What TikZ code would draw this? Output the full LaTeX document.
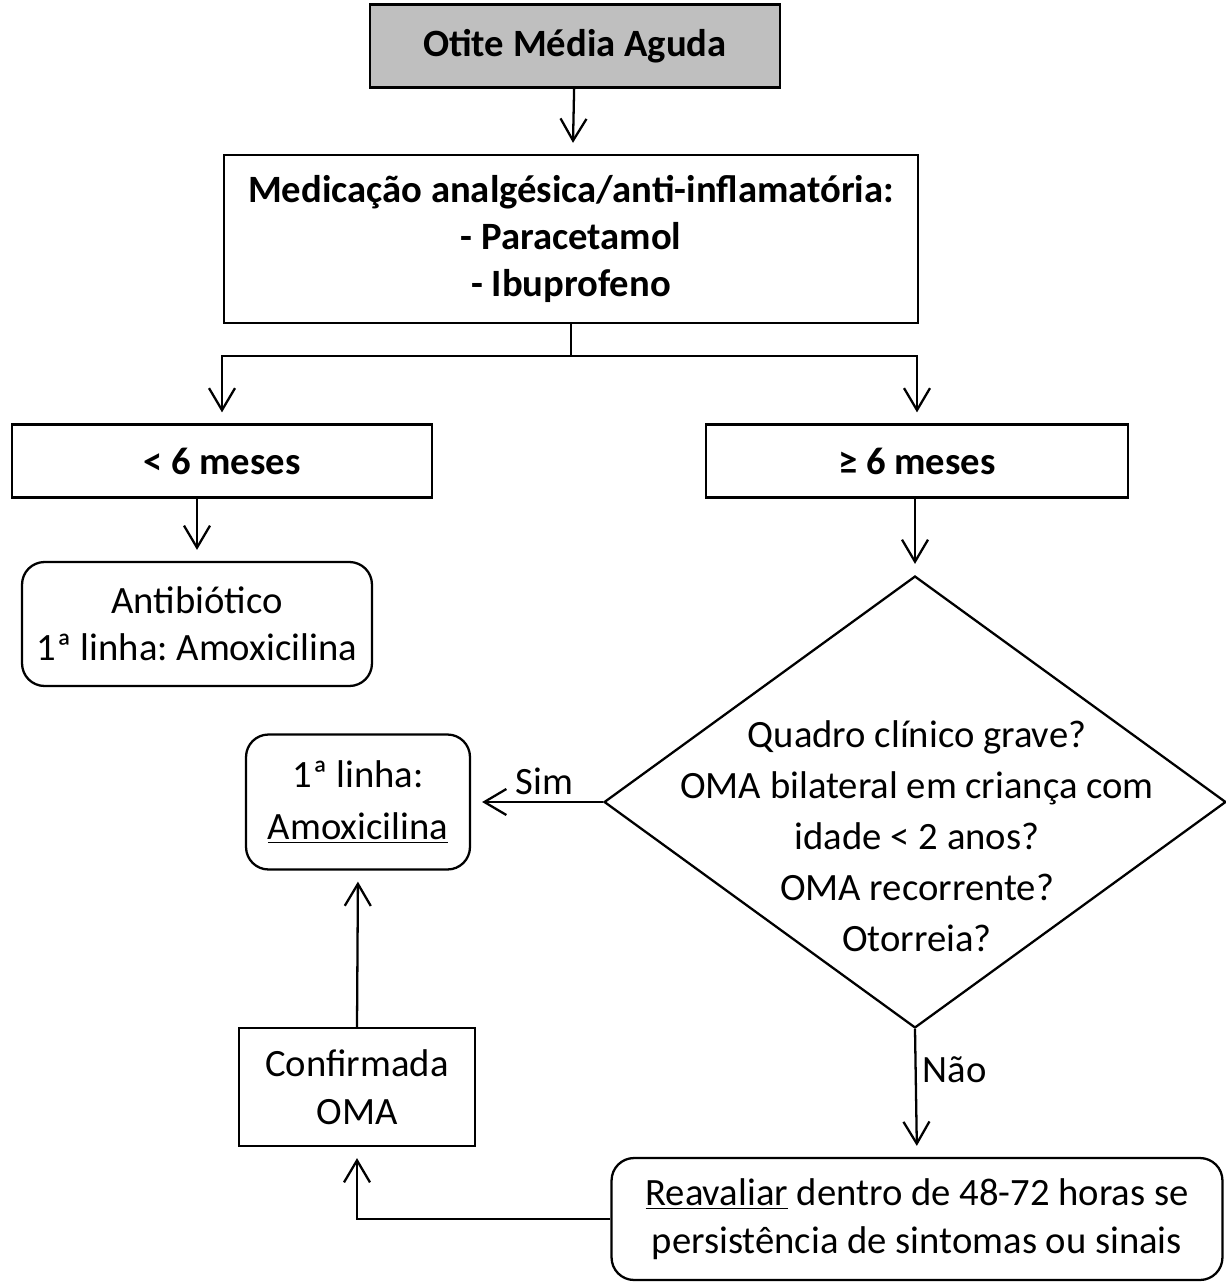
\documentclass[tikz,border=0pt]{standalone}
\usepackage{fontspec}
\setmainfont{Carlito}
\frenchspacing
\usetikzlibrary{shapes.geometric,arrows.meta}

\begin{document}
\begin{tikzpicture}[->,>={Straight Barb[length=4.4mm,width=5.2mm]},
  x=0.02cm,y=-0.02cm,line width=1.3pt,shorten >=0.22cm,
  main box/.style={rectangle,draw,align=center,inner sep=0pt,
    font=\fontsize{22}{27}\selectfont\bfseries},
  plain box/.style={rectangle,draw,align=center,inner sep=0pt,
    font=\fontsize{22}{27}\selectfont},
  round box/.style={plain box,rounded corners=0.45cm}]
\useasboundingbox (0,0) rectangle (1226,1284);
\node[main box,fill=gray!50,minimum width=8.2cm,minimum height=1.66cm] (title) at (575,46) {Otite Média Aguda};
\node[main box,minimum width=13.88cm,minimum height=3.36cm] (med) at (571,239)
  {Medicação analgésica/anti-inflamatória:\\ - Paracetamol\\ - Ibuprofeno};
\node[main box,minimum width=8.4cm,minimum height=1.46cm] (lt6) at (222,461) {< 6 meses};
\node[main box,minimum width=8.44cm,minimum height=1.46cm] (ge6) at (917,461) {≥ 6 meses};
\node[round box,minimum width=7cm,minimum height=2.48cm] (anti) at (197,624)
  {Antibiótico\\ 1ª linha: Amoxicilina};
\node[diamond,draw,minimum width=12.44cm,minimum height=9.04cm,inner sep=0pt] (dia) at (915,802) {};
\node[align=center,font=\fontsize{22}{29}\selectfont] (diatext) at (917,836)
  {Quadro clínico grave?\\ OMA bilateral em criança com\\ idade < 2 anos?\\ OMA recorrente?\\ Otorreia?};
\node[round box,font=\fontsize{22}{30}\selectfont,minimum width=4.48cm,minimum height=2.7cm] (amox) at (358,802)
  {1ª linha:\\ \underline{Amoxicilina}};
\node[plain box,minimum width=4.72cm,minimum height=2.36cm] (conf) at (357,1087) {Confirmada\\ OMA};
\node[round box,minimum width=12.22cm,minimum height=2.44cm] (reav) at (917,1219)
  {\underline{Reavaliar} dentro de 48-72 horas se\\ persistência de sintomas ou sinais};
\coordinate (fork) at (571,356);
% connectors
\draw (title) -- (med);
\draw [-,shorten >=0pt] (med) -- (fork);
\draw (fork) -| (lt6.north);
\draw (fork) -| (ge6.north);
\draw (lt6.south -| anti.north) -- (anti.north);
\draw (ge6.south -| dia.north) -- (dia.north);
\draw (dia.west) -- node[above,xshift=0.15cm,font=\fontsize{22}{27}\selectfont] (sim) {Sim} (amox.east);
\draw (dia.south) -- node[right,pos=0.32,font=\fontsize{22}{27}\selectfont] (nao) {Não} (reav.north);
\draw (conf.north) -- (amox.south);
\draw (reav.west) -| (conf.south);
\end{tikzpicture}
\end{document}
